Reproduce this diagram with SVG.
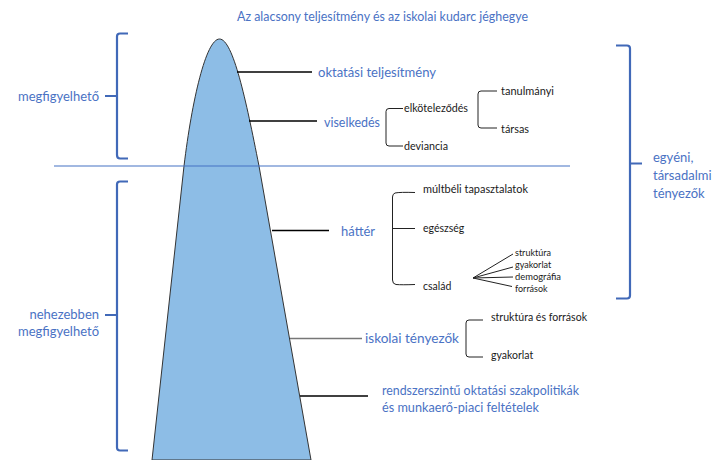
<svg xmlns="http://www.w3.org/2000/svg" width="713" height="460" viewBox="0 0 713 460">
<style>
text{font-family:Lato,"Liberation Sans",sans-serif;dominant-baseline:central}
.b{fill:#4a72c4;font-size:13px}
.k{fill:#1a1a1a;font-size:10.5px}
.s{fill:#1a1a1a;font-size:9px}
.br{fill:none;stroke:#4169b8;stroke-width:2.2;stroke-linejoin:round}
.c{fill:none;stroke:#000;stroke-width:1.3}
.t{fill:none;stroke:#222;stroke-width:1}
</style>
<rect width="713" height="460" fill="#fff"/>
<g id="iceberg">
<path d="M152,460 L184,166 C192,100 206,39 219.5,39 C233,39 246,100 259,166 L311,460 Z" fill="#8dbde6" stroke="#333" stroke-width="1"/>
</g>
<g id="waterline"><line x1="54" y1="166" x2="570" y2="166" stroke="#4472c4" stroke-width="1.2"/></g>
<text id="title" class="b" x="237" y="16" textLength="291" lengthAdjust="spacingAndGlyphs">Az alacsony teljesítmény és az iskolai kudarc jéghegye</text>
<g id="connectors">
<line class="c" x1="237" y1="72" x2="312" y2="72"/>
<line class="c" x1="249" y1="121" x2="317" y2="121"/>
<line class="c" x1="272" y1="230.5" x2="329" y2="230.5"/>
<line x1="290" y1="338.5" x2="362" y2="338.5" stroke="#777" stroke-width="1.3"/>
<line class="c" x1="300" y1="396" x2="368" y2="396"/>
<path class="t" d="M403,108.5 H389 Q386,108.5 386,111.5 V143 Q386,146 389,146 H403"/>
<path class="t" d="M497,91 H481 Q478,91 478,94 V125 Q478,128 481,128 H497"/>
<path class="t" d="M415,192.5 Q400,192 395,193 Q392.5,194 392.5,197 V280 Q392.5,284 396,284.5 Q402,285 415,284.5 M392.5,228.5 H415"/>
<path class="t" d="M473,278 L513,254 M473,278 L513,267 M473,278 L513,277 M473,278 L512,286.5"/>
<path class="t" d="M483,320 H469 Q466,320 466,323 V354 Q466,357 469,357 H483"/>
</g>
<g id="brackets">
<path class="br" d="M128,33.5 H120 Q117,33.5 117,36.5 V155 Q117,158.5 120,158.5 H128 M117,96 H105"/>
<path class="br" d="M128,181.5 H120 Q117,181.5 117,184.5 V447.5 Q117,450.5 120,450.5 H128 M117,315 H105"/>
<path class="br" d="M616,45.5 H627 Q630,45.5 630,48.5 V295.5 Q630,298.5 627,298.5 H616 M630,163.5 H642"/>
</g>
<g id="n-megfigyelheto"><text class="b" x="99" y="96" text-anchor="end" textLength="81" lengthAdjust="spacingAndGlyphs">megfigyelhető</text></g>
<g id="n-nehezebben"><text class="b" x="99" y="314" text-anchor="end">nehezebben</text><text class="b" x="99" y="331" text-anchor="end" textLength="81" lengthAdjust="spacingAndGlyphs">megfigyelhető</text></g>
<g id="n-egyeni"><text class="b" x="653" y="157">egyéni,</text><text class="b" x="653" y="174.5">társadalmi</text><text class="b" x="653" y="192.5">tényezők</text></g>
<g id="n-oktatasi"><text class="b" x="318" y="71.5" textLength="118" lengthAdjust="spacingAndGlyphs">oktatási teljesítmény</text></g>
<g id="n-viselkedes"><text class="b" x="324" y="122" textLength="56" lengthAdjust="spacingAndGlyphs">viselkedés</text></g>
<g id="n-elkotelezodes"><text class="k" x="404" y="108" textLength="64" lengthAdjust="spacingAndGlyphs">elköteleződés</text></g>
<g id="n-deviancia"><text class="k" x="404" y="146" textLength="44" lengthAdjust="spacingAndGlyphs">deviancia</text></g>
<g id="n-tanulmanyi"><text class="k" x="501" y="91" textLength="53" lengthAdjust="spacingAndGlyphs">tanulmányi</text></g>
<g id="n-tarsas"><text class="k" x="501" y="128.5" textLength="28" lengthAdjust="spacingAndGlyphs">társas</text></g>
<g id="n-hatter"><text class="b" x="341" y="230.5">háttér</text></g>
<g id="n-multbeli"><text class="k" x="423" y="188.5" textLength="105" lengthAdjust="spacingAndGlyphs">múltbéli tapasztalatok</text></g>
<g id="n-egeszseg"><text class="k" x="423" y="227.5">egészség</text></g>
<g id="n-csalad"><text class="k" x="423" y="286">család</text></g>
<g id="n-struktura"><text class="s" x="515" y="252">struktúra</text></g>
<g id="n-gyakorlat1"><text class="s" x="515" y="264.5">gyakorlat</text></g>
<g id="n-demografia"><text class="s" x="515" y="276.5" textLength="46" lengthAdjust="spacingAndGlyphs">demográfia</text></g>
<g id="n-forrasok"><text class="s" x="515" y="288.5">források</text></g>
<g id="n-iskolai"><text class="b" x="365" y="338" textLength="94" lengthAdjust="spacingAndGlyphs">iskolai tényezők</text></g>
<g id="n-strukturaes"><text class="k" x="491" y="317" textLength="96" lengthAdjust="spacingAndGlyphs">struktúra és források</text></g>
<g id="n-gyakorlat2"><text class="k" x="491" y="354.5">gyakorlat</text></g>
<g id="n-rendszer"><text class="b" x="382" y="390" textLength="197" lengthAdjust="spacingAndGlyphs">rendszerszintű oktatási szakpolitikák</text><text class="b" x="382" y="407" textLength="157" lengthAdjust="spacingAndGlyphs">és munkaerő-piaci feltételek</text></g>
</svg>
